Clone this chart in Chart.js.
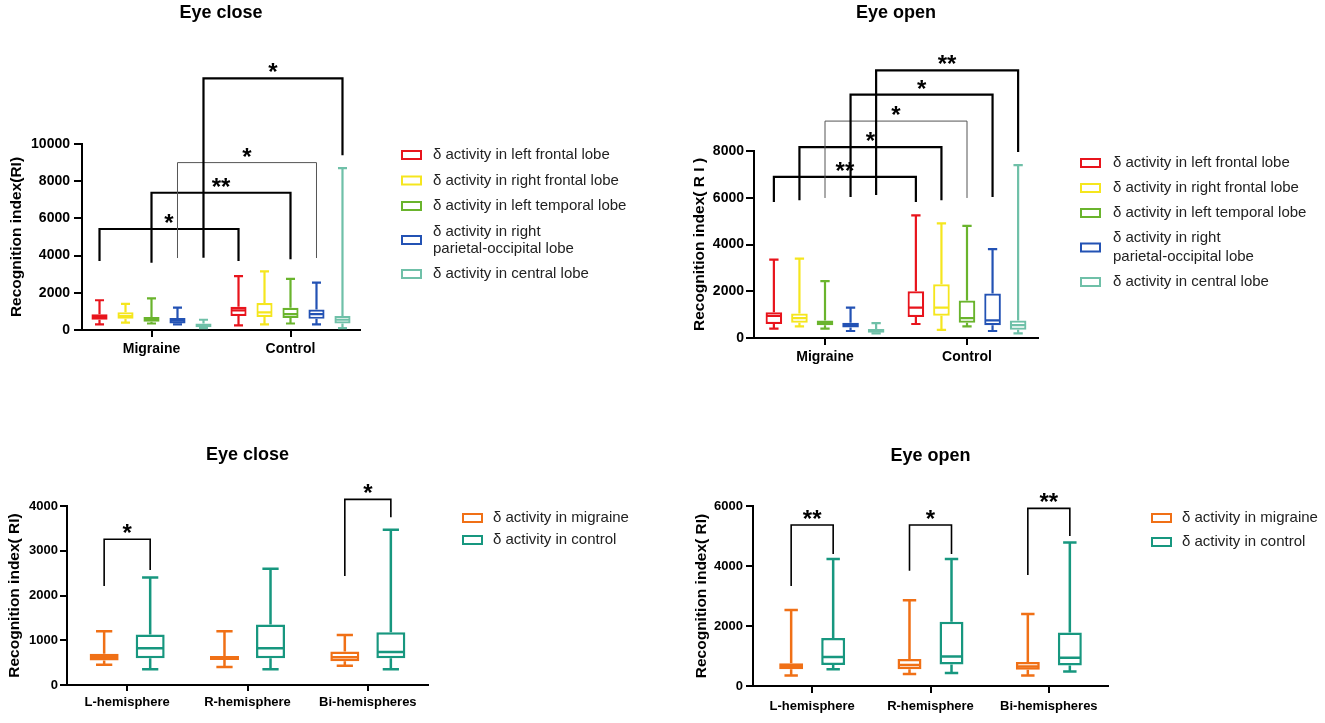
<!DOCTYPE html>
<html>
<head>
<meta charset="utf-8">
<script src="https://cdn.jsdelivr.net/npm/chart.js@4.4.1/dist/chart.umd.min.js"></script>
<style>
  body { margin: 0; background: #fff; width: 1325px; height: 723px; position: relative; overflow: hidden; }
  canvas { position: absolute; }
</style>
</head>
<body>
<canvas id="closeLobes" width="660" height="370" style="left:0;top:0"></canvas>
<canvas id="openLobes" width="665" height="370" style="left:660px;top:0"></canvas>
<canvas id="closeHemis" width="660" height="353" style="left:0;top:370px"></canvas>
<canvas id="openHemis" width="665" height="353" style="left:660px;top:370px"></canvas>
<script>
// categories
const groups = ['Migraine', 'Control'];
const hemis = ['L-hemisphere', 'R-hemisphere', 'Bi-hemispheres'];
const lobes = ['δ activity in left frontal lobe', 'δ activity in right frontal lobe', 'δ activity in left temporal lobe',
  ['δ activity in right', 'parietal-occipital lobe'], 'δ activity in central lobe'];
const cohorts = ['δ activity in migraine', 'δ activity in control'];

// box stats: [min, q1, median, q3, max], one row per category
const closeLeftFrontal = [[300, 550, 700, 850, 1600], [250, 750, 1050, 1250, 2900]];
const closeRightFrontal = [[400, 600, 750, 950, 1400], [300, 700, 950, 1450, 3150]];
const closeLeftTemporal = [[350, 450, 600, 700, 1700], [350, 650, 850, 1200, 2750]];
const closeParietal = [[300, 350, 500, 650, 1200], [300, 600, 850, 1100, 2550]];
const closeCentral = [[100, 150, 250, 350, 550], [100, 350, 550, 750, 8700]];

const openLeftFrontal = [[400, 600, 950, 1100, 3350], [600, 900, 1300, 2000, 5250]];
const openRightFrontal = [[500, 650, 850, 1050, 3400], [350, 950, 1300, 2300, 4900]];
const openLeftTemporal = [[400, 550, 650, 750, 2430], [500, 650, 850, 1600, 4800]];
const openParietal = [[300, 450, 550, 650, 1300], [300, 550, 750, 1900, 3800]];
const openCentral = [[200, 220, 300, 380, 640], [200, 350, 550, 750, 7400]];

const closeMigraine = [[450, 550, 630, 700, 1200], [400, 560, 620, 650, 1200], [430, 530, 620, 750, 1120]];
const closeControl = [[350, 600, 820, 1130, 2400], [350, 600, 820, 1350, 2600], [350, 600, 740, 1180, 3470]];
const openMigraine = [[350, 560, 660, 760, 2530], [400, 560, 700, 900, 2860], [350, 540, 650, 800, 2400]];
const openControl = [[560, 700, 970, 1600, 4230], [430, 720, 980, 2140, 4230], [480, 680, 940, 1780, 4780]];

// significance brackets: from/to = [series, category], y = bar level, ends = leg bottoms
const closeLobeSig = [
  { from: [0, 0], to: [0, 1], y: 5430, ends: [3710, 3710], mark: '*' },
  { from: [2, 0], to: [2, 1], y: 7380, ends: [3620, 3800], mark: '**' },
  { from: [3, 0], to: [3, 1], y: 9000, ends: [3870, 3870], mark: '*' },
  { from: [4, 0], to: [4, 1], y: 13530, ends: [3890, 9400], mark: '*' }
];
const openLobeSig = [
  { from: [0, 0], to: [0, 1], y: 6890, ends: [5820, 5820], mark: '**' },
  { from: [1, 0], to: [1, 1], y: 8170, ends: [5890, 5890], mark: '*' },
  { from: [2, 0], to: [2, 1], y: 9280, ends: [5990, 5990], mark: '*' },
  { from: [3, 0], to: [3, 1], y: 10410, ends: [6030, 6030], mark: '*' },
  { from: [4, 0], to: [4, 1], y: 11450, ends: [6120, 7960], mark: '**' }
];
const closeHemiSig = [
  { from: [0, 0], to: [1, 0], y: 3256, ends: [2212, 2570], mark: '*' },
  { from: [0, 2], to: [1, 2], y: 4149, ends: [2436, 3747], mark: '*' }
];
const openHemiSig = [
  { from: [0, 0], to: [1, 0], y: 5367, ends: [3333, 4400], mark: '**' },
  { from: [0, 1], to: [1, 1], y: 5367, ends: [3844, 4400], mark: '*' },
  { from: [0, 2], to: [1, 2], y: 5922, ends: [3700, 5000], mark: '**' }
];

const FONT = 'Arial, "Liberation Sans", Helvetica, sans-serif';
const lobeColors = ['#e8141c', '#f5e61e', '#6ab42d', '#2352b4', '#6fc0a8'];
const cohortColors = ['#f07016', '#17977f'];
Chart.defaults.font.family = FONT;

// whiskers, caps and median line on top of the floating q1-q3 bars
const boxWhiskers = {
  id: 'boxWhiskers',
  afterDatasetsDraw(chart) {
    const ctx = chart.ctx, y = chart.scales.y;
    chart.data.datasets.forEach((ds, d) => {
      chart.getDatasetMeta(d).data.forEach((bar, i) => {
        const [lo, q1, med, q3, hi] = ds.stats[i];
        const cap = bar.width * 0.28, half = bar.width / 2 - 1;
        ctx.save();
        ctx.strokeStyle = ds.borderColor;
        ctx.lineWidth = ds.borderWidth;
        ctx.beginPath();
        ctx.moveTo(bar.x, y.getPixelForValue(hi));
        ctx.lineTo(bar.x, y.getPixelForValue(q3));
        ctx.moveTo(bar.x, y.getPixelForValue(q1));
        ctx.lineTo(bar.x, y.getPixelForValue(lo));
        ctx.moveTo(bar.x - cap, y.getPixelForValue(hi));
        ctx.lineTo(bar.x + cap, y.getPixelForValue(hi));
        ctx.moveTo(bar.x - cap, y.getPixelForValue(lo));
        ctx.lineTo(bar.x + cap, y.getPixelForValue(lo));
        ctx.moveTo(bar.x - half, y.getPixelForValue(med));
        ctx.lineTo(bar.x + half, y.getPixelForValue(med));
        ctx.stroke();
        ctx.restore();
      });
    });
  }
};

function sigPlugin(list, style) {
  return {
    id: 'sigBars',
    afterDraw(chart) {
      const ctx = chart.ctx, y = chart.scales.y;
      list.forEach((b, k) => {
        const a = chart.getDatasetMeta(b.from[0]).data[b.from[1]];
        const c = chart.getDatasetMeta(b.to[0]).data[b.to[1]];
        const top = y.getPixelForValue(b.y);
        const thin = (style.thin || []).includes(k);
        ctx.save();
        ctx.strokeStyle = thin ? '#555' : '#000';
        ctx.lineWidth = thin ? 1 : style.width;
        ctx.beginPath();
        ctx.moveTo(a.x, y.getPixelForValue(b.ends[0]));
        ctx.lineTo(a.x, top);
        ctx.lineTo(c.x, top);
        ctx.lineTo(c.x, y.getPixelForValue(b.ends[1]));
        ctx.stroke();
        ctx.fillStyle = '#000';
        ctx.font = 'bold 24px ' + FONT;
        ctx.textAlign = 'center';
        ctx.textBaseline = 'alphabetic';
        ctx.fillText(b.mark, (a.x + c.x) / 2, top + 2);
        ctx.restore();
      });
    }
  };
}

function legendPlugin(names, colors, L) {
  return {
    id: 'sideLegend',
    afterDraw(chart) {
      const ctx = chart.ctx;
      let y = L.y;
      names.forEach((name, i) => {
        const lines = [].concat(name);
        const mid = y + (lines.length - 1) * L.lineGap / 2;
        ctx.save();
        ctx.fillStyle = '#fff';
        ctx.strokeStyle = colors[i];
        ctx.lineWidth = 2;
        ctx.fillRect(L.x, mid - 4, 19, 8);
        ctx.strokeRect(L.x, mid - 4, 19, 8);
        ctx.fillStyle = '#222';
        ctx.font = '15px ' + FONT;
        ctx.textAlign = 'left';
        ctx.textBaseline = 'middle';
        lines.forEach((t, j) => ctx.fillText(t, L.x + L.textGap, y + j * L.lineGap));
        ctx.restore();
        y += (lines.length - 1) * L.lineGap + L.step;
      });
    }
  };
}

function boxChart(id, o) {
  return new Chart(document.getElementById(id), {
    type: 'bar',
    data: {
      labels: o.labels,
      datasets: o.series.map((s, i) => ({
        label: [].concat(o.names[i]).join(' '),
        data: s.map(r => [r[1], r[3]]),
        stats: s,
        borderColor: o.colors[i],
        backgroundColor: '#fff',
        borderWidth: o.lineWidth,
        borderSkipped: false,
        categoryPercentage: o.catPct,
        barPercentage: o.barPct
      }))
    },
    options: {
      responsive: false,
      animation: false,
      events: [],
      layout: { padding: { right: o.padRight } },
      plugins: {
        legend: { display: false },
        tooltip: { enabled: false },
        title: {
          display: true, text: o.title, fullSize: false, color: '#000',
          font: { size: 18, weight: 'bold' },
          padding: { top: o.titlePad[0], bottom: o.titlePad[1] }
        }
      },
      scales: {
        x: {
          grid: { offset: false, drawOnChartArea: false, color: '#000', lineWidth: 2, tickLength: o.xTick },
          border: { color: '#000', width: 2 },
          ticks: { color: '#000', font: { size: o.fontSize, weight: 'bold' }, padding: o.xPad },
          afterFit: s => { s.height = o.xHeight; }
        },
        y: {
          min: 0, max: o.yMax,
          grid: { drawOnChartArea: false, color: '#000', lineWidth: 2, tickLength: o.yTick },
          border: { color: '#000', width: 2 },
          ticks: {
            stepSize: o.yStep, color: '#000', font: { size: o.fontSize, weight: 'bold' }, padding: o.yPad,
            callback: v => String(v)
          },
          title: {
            display: true, text: o.yTitle, color: '#000',
            font: { size: 15.5, weight: 'bold' },
            padding: { top: o.yTitlePad, bottom: 0 }
          },
          afterFit: s => { s.width = o.yWidth; }
        }
      }
    },
    plugins: [boxWhiskers, sigPlugin(o.sig, o.sigStyle), legendPlugin(o.names, o.colors, o.legend)]
  });
}

boxChart('closeLobes', {
  labels: groups, names: lobes, colors: lobeColors,
  series: [closeLeftFrontal, closeRightFrontal, closeLeftTemporal, closeParietal, closeCentral],
  title: 'Eye close', titlePad: [2.2, 120.2], padRight: 300,
  yMax: 10000, yStep: 2000, yTitle: 'Recognition index(RI)', yTitlePad: 7.7,
  yWidth: 82, yTick: 8, yPad: 4, xHeight: 40, xTick: 7, xPad: 4, fontSize: 14,
  catPct: 0.935, barPct: 0.62, lineWidth: 2.2,
  sig: closeLobeSig, sigStyle: { width: 2.2, thin: [2] },
  legend: { x: 402, y: 155, step: 25.5, lineGap: 17, textGap: 31 }
});

boxChart('openLobes', {
  labels: groups, names: lobes, colors: lobeColors,
  series: [openLeftFrontal, openRightFrontal, openLeftTemporal, openParietal, openCentral],
  title: 'Eye open', titlePad: [2.2, 127.2], padRight: 287,
  yMax: 8000, yStep: 2000, yTitle: 'Recognition index( R I )', yTitlePad: 30.7,
  yWidth: 94, yTick: 8, yPad: 2, xHeight: 32, xTick: 7, xPad: 4, fontSize: 14,
  catPct: 0.9, barPct: 0.65, lineWidth: 2.2,
  sig: openLobeSig, sigStyle: { width: 2.2, thin: [2] },
  legend: { x: 421, y: 163, step: 25, lineGap: 19, textGap: 32 }
});

boxChart('closeHemis', {
  labels: hemis, names: cohorts, colors: cohortColors,
  series: [closeMigraine, closeControl],
  title: 'Eye close', titlePad: [74.2, 40.2], padRight: 232,
  yMax: 4000, yStep: 1000, yTitle: 'Recognition index( RI)', yTitlePad: 5.7,
  yWidth: 67, yTick: 7, yPad: 2, xHeight: 38, xTick: 6, xPad: 4, fontSize: 13,
  catPct: 0.765, barPct: 0.63, lineWidth: 2.5,
  sig: closeHemiSig, sigStyle: { width: 1.6 },
  legend: { x: 463, y: 148, step: 22, lineGap: 17, textGap: 30 }
});

boxChart('openHemis', {
  labels: hemis, names: cohorts, colors: cohortColors,
  series: [openMigraine, openControl],
  title: 'Eye open', titlePad: [75.2, 39.2], padRight: 217,
  yMax: 6000, yStep: 2000, yTitle: 'Recognition index( RI)', yTitlePad: 32.7,
  yWidth: 93, yTick: 7, yPad: 3, xHeight: 37, xTick: 7, xPad: 6, fontSize: 13,
  catPct: 0.71, barPct: 0.57, lineWidth: 2.5,
  sig: openHemiSig, sigStyle: { width: 1.6 },
  legend: { x: 492, y: 148, step: 24, lineGap: 17, textGap: 30 }
});
</script>
</body>
</html>
